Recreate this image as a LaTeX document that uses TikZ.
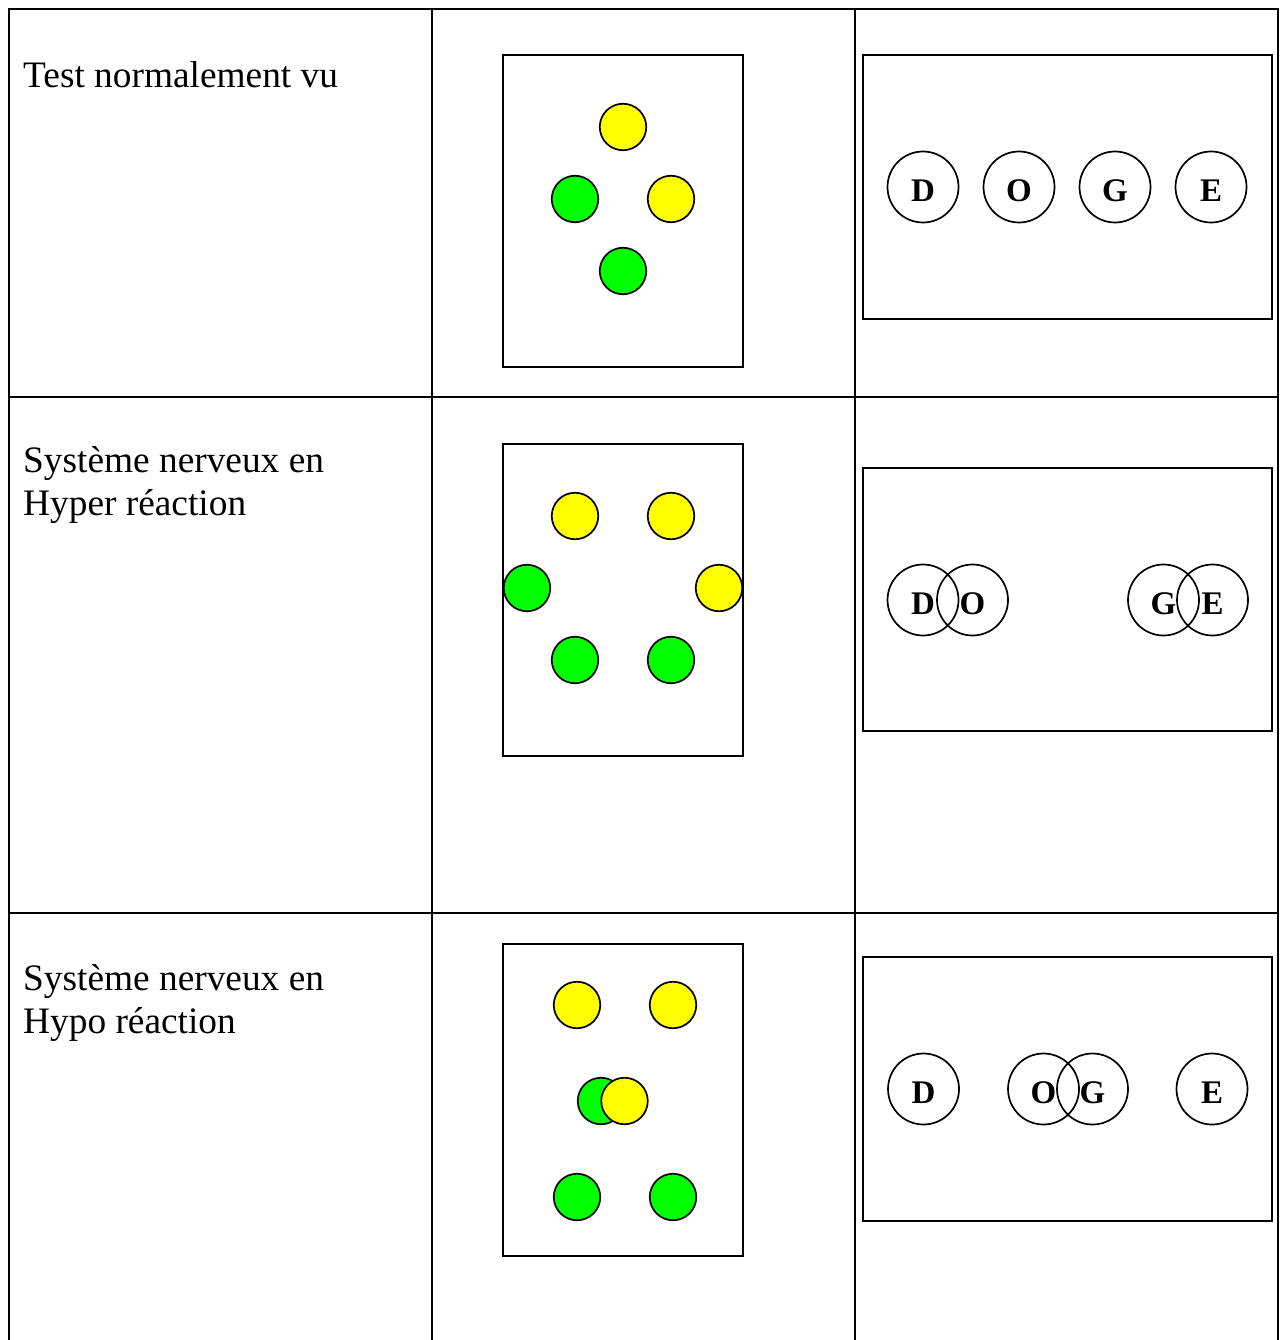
\documentclass[tikz,border=0pt]{standalone}
\usepackage{fontspec}
\setmainfont{Liberation Serif}
\definecolor{dotgreen}{RGB}{0,255,0}
\definecolor{dotyellow}{RGB}{255,255,0}
\begin{document}
\begin{tikzpicture}[x=1pt,y=-1pt,
  tablerule/.style={line width=2pt},
  panel/.style={draw,line width=2pt},
  dot/.style={circle,draw,line width=1.7pt,minimum size=46.5pt,inner sep=0pt},
  gdot/.style={dot,fill=dotgreen},
  ydot/.style={dot,fill=dotyellow},
  letter/.style={circle,draw,line width=1.7pt,minimum size=71pt,inner sep=0pt,
    text height=28.3pt,text depth=0pt,font=\fontsize{33}{33}\selectfont\bfseries},
  rowtext/.style={anchor=base west,inner sep=0pt,font=\fontsize{37.35}{43}\selectfont}]
\useasboundingbox[fill=white] (0,0) rectangle (1280,1340);

% table rules
\draw[tablerule] (9,9) -- (1278,9);
\draw[tablerule] (9,396.5) -- (1278,396.5);
\draw[tablerule] (9,913) -- (1278,913);
\draw[tablerule] (9,8) -- (9,1340);
\draw[tablerule] (431.5,8) -- (431.5,1340);
\draw[tablerule] (855,8) -- (855,1340);
\draw[tablerule] (1278,8) -- (1278,1340);

% row texts
\node[rowtext] (t1) at (23,87.5) {Test normalement vu};
\node[rowtext] (t2a) at (23,472) {Système nerveux en};
\node[rowtext] (t2b) at (23,515) {Hyper réaction};
\node[rowtext] (t3a) at (23,990.5) {Système nerveux en};
\node[rowtext] (t3b) at (23,1033.5) {Hypo réaction};

% middle panels
\draw[panel] (503,55) rectangle (743,367);
\draw[panel] (503,444) rectangle (743,756);
\draw[panel] (503,944) rectangle (743,1256);

% right panels
\draw[panel] (863,55) rectangle (1271.5,318.5);
\draw[panel] (863,468) rectangle (1271.5,731);
\draw[panel] (863,957) rectangle (1271.5,1221);

% row 1 dots
\node[ydot] (a1) at (623,127) {};
\node[gdot] (a2) at (575,199) {};
\node[ydot] (a3) at (671,199) {};
\node[gdot] (a4) at (623,271) {};

% row 2 dots
\node[ydot] (b1) at (575,516) {};
\node[ydot] (b2) at (671,516) {};
\node[gdot] (b3) at (527,588) {};
\node[ydot] (b4) at (719,588) {};
\node[gdot] (b5) at (575,660) {};
\node[gdot] (b6) at (671,660) {};

% row 3 dots
\node[ydot] (c1) at (577,1005) {};
\node[ydot] (c2) at (673,1005) {};
\node[gdot] (c3) at (601,1101) {};
\node[ydot] (c4) at (624.5,1101) {};
\node[gdot] (c5) at (577,1197) {};
\node[gdot] (c6) at (673,1197) {};

% row 1 letters
\node[letter] (d1) at (923,187) {D};
\node[letter] (o1) at (1019,187) {O};
\node[letter] (g1) at (1115,187) {G};
\node[letter] (e1) at (1211,187) {E};

% row 2 letters
\node[letter] (d2) at (923,600) {D};
\node[letter] (o2) at (972.5,600) {O};
\node[letter] (g2) at (1163.5,600) {G};
\node[letter] (e2) at (1212.5,600) {E};

% row 3 letters
\node[letter] (d3) at (923.5,1089) {D};
\node[letter] (o3) at (1043.5,1089) {O};
\node[letter] (g3) at (1092.5,1089) {G};
\node[letter] (e3) at (1212,1089) {E};
\end{tikzpicture}
\end{document}
